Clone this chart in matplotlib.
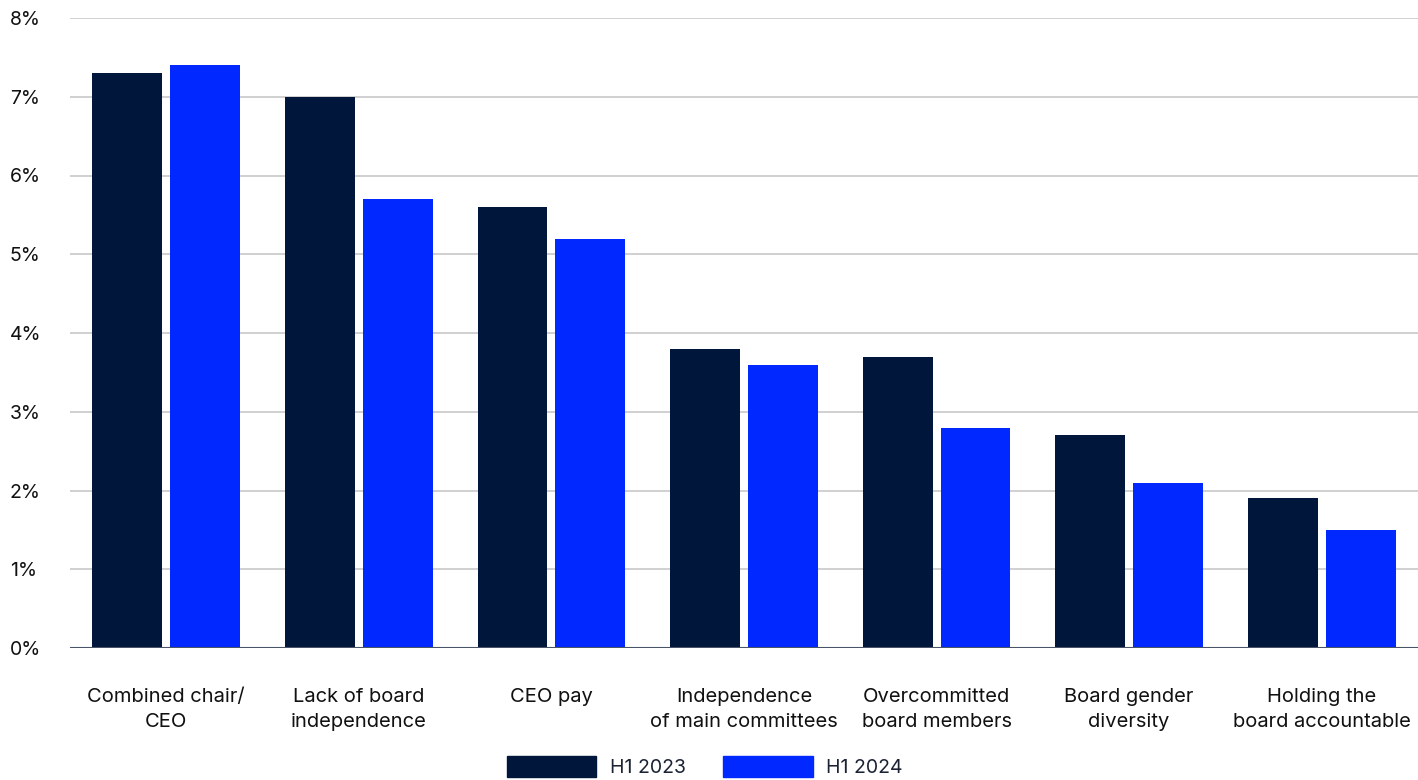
import matplotlib.pyplot as plt
import numpy as np
from matplotlib.patches import Patch

# ---- Data ----
categories = ["Combined chair/\nCEO", "Lack of board\nindependence", "CEO pay",
              "Independence\nof main committees", "Overcommitted\nboard members",
              "Board gender\ndiversity", "Holding the\nboard accountable"]
h1_2023 = [7.3, 7.0, 5.6, 3.8, 3.7, 2.7, 1.9]
h1_2024 = [7.4, 5.7, 5.2, 3.6, 2.8, 2.1, 1.5]
yticks = [0, 1, 2, 3, 4, 5, 6, 7, 8]

navy = '#00163A'
blue = '#0028FF'

plt.rcParams['font.family'] = ['Inter', 'DejaVu Sans']

fig = plt.figure(figsize=(14.18, 7.8), dpi=100)
ax = fig.add_axes([70 / 1418, 1 - 648 / 780, 1348 / 1418, 630 / 780])

x = np.arange(len(categories))
w = 0.363
off = 0.202
ax.bar(x - off, h1_2023, width=w, color=navy, zorder=3)
ax.bar(x + off, h1_2024, width=w, color=blue, zorder=3)

ax.set_xlim(-0.5, len(categories) - 0.5)
ax.set_ylim(0, 8)

# ---- Grid ----
ax.set_yticks(yticks)
ax.set_yticklabels([f"{t}%" for t in yticks])
ax.yaxis.grid(True, color='#c8c8c8', linewidth=1.2, zorder=0)
ax.axhline(0, color='#4a5468', linewidth=1.5, zorder=4)

for spine in ax.spines.values():
    spine.set_visible(False)

ax.tick_params(axis='y', length=0, labelsize=14, pad=0, labelcolor='#111111')
for lbl in ax.get_yticklabels():
    lbl.set_horizontalalignment('left')
    lbl.set_x(-60 / 1348)

ax.set_xticks(x)
ax.set_xticklabels(categories, fontsize=14.5, color='#111111', linespacing=1.45)
ax.tick_params(axis='x', length=0, pad=29)

# ---- Legend ----
handles = [Patch(color=navy, label="H1 2023"), Patch(color=blue, label="H1 2024")]
fig.legend(handles=handles, loc='lower center', bbox_to_anchor=(0.497, -0.019), ncol=2,
           frameon=False, fontsize=14, handlelength=4.6, handleheight=1.27,
           handletextpad=0.7, columnspacing=1.95, labelcolor='#1a2233')

plt.savefig("out.png", dpi=100)
